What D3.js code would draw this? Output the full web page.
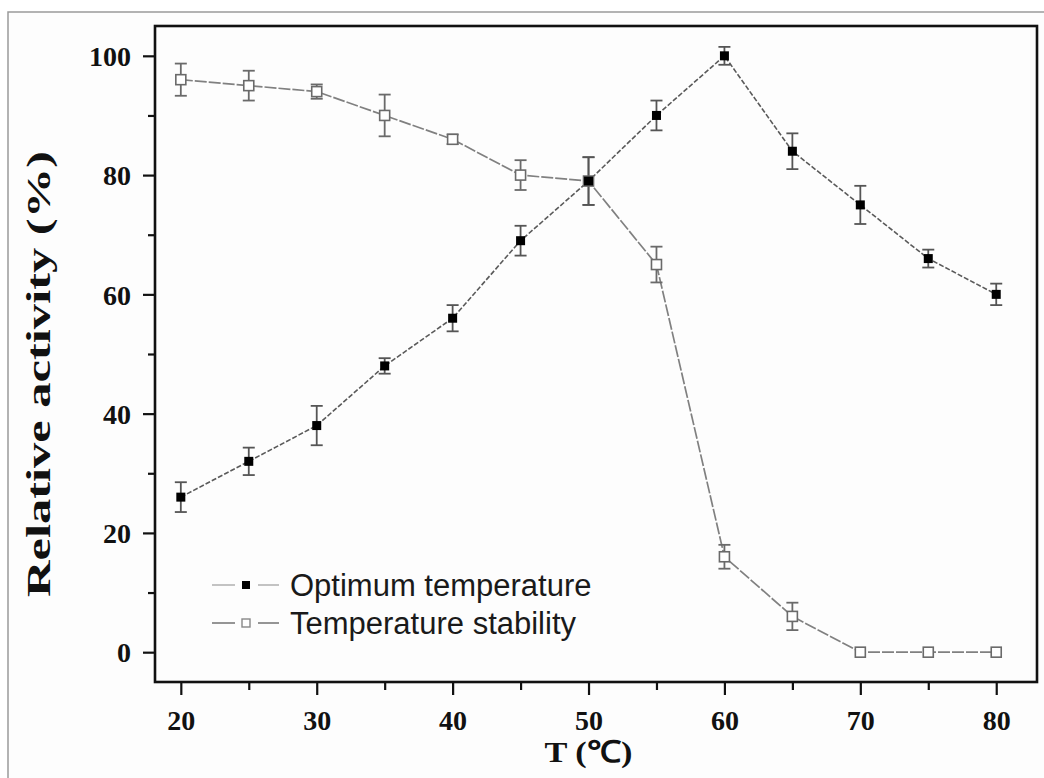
<!DOCTYPE html>
<html><head><meta charset="utf-8">
<script src="https://cdn.jsdelivr.net/npm/d3@7"></script>
<style>html,body{margin:0;padding:0;background:#fff;}svg{display:block;}</style>
</head><body>
<svg id="chart" width="1044" height="778"></svg>
<script>
const temps = [20, 25, 30, 35, 40, 45, 50, 55, 60, 65, 70, 75, 80];
const optimumValues = [26, 32, 38, 48, 56, 69, 79, 90, 100, 84, 75, 66, 60];
const optimumErrors = [2.5, 2.3, 3.3, 1.3, 2.2, 2.5, 4, 2.5, 1.5, 3, 3.2, 1.5, 1.8];
const stabilityValues = [96, 95, 94, 90, 86, 80, 79, 65, 16, 6, 0, 0, 0];
const stabilityErrors = [2.7, 2.5, 1.2, 3.5, 0.8, 2.5, 4, 3, 2, 2.3, 0, 0, 0];
const xTicks = [20, 30, 40, 50, 60, 70, 80];
const xMinorTicks = [25, 35, 45, 55, 65, 75];
const yTicks = [0, 20, 40, 60, 80, 100];
const yMinorTicks = [10, 30, 50, 70, 90];
const seriesNames = ["Optimum temperature", "Temperature stability"];
const xTitle = "T (\u2103)";
const yTitle = "Relative activity (%)";

const svg = d3.select("#chart");
const L = 155, R = 1037, T = 26, B = 682;
const x = d3.scaleLinear().domain([18.1, 83]).range([L, R]);
const y = d3.scaleLinear().domain([-5, 105]).range([B, T]);

// outer frame
svg.append("rect").attr("x", 8).attr("y", 12).attr("width", 1050).attr("height", 800)
  .attr("fill", "#fdfdfd").attr("stroke", "#9a9a9a").attr("stroke-width", 1.5);

const serif = "'Liberation Serif','Times New Roman',serif";
const sans = "'Liberation Sans',Arial,sans-serif";

// Axes
const xAxis = svg.append("g").attr("transform", `translate(0,${B})`)
  .call(d3.axisBottom(x).tickValues(xTicks).tickSize(13).tickPadding(15).tickFormat(d3.format("d")));
const xMinor = svg.append("g").attr("transform", `translate(0,${B})`)
  .call(d3.axisBottom(x).tickValues(xMinorTicks).tickSize(8).tickFormat(""));
const yAxis = svg.append("g").attr("transform", `translate(${L},0)`)
  .call(d3.axisLeft(y).tickValues(yTicks).tickSize(12).tickPadding(12).tickFormat(d3.format("d")));
const yMinor = svg.append("g").attr("transform", `translate(${L},0)`)
  .call(d3.axisLeft(y).tickValues(yMinorTicks).tickSize(7).tickFormat(""));
[xAxis, xMinor, yAxis, yMinor].forEach(g => {
  g.select(".domain").remove();
  g.selectAll(".tick line").attr("stroke", "#111").attr("stroke-width", 2.2);
  g.selectAll(".tick text").attr("fill", "#111").attr("font-family", serif)
    .attr("font-weight", "bold").attr("font-size", 28);
});
yAxis.selectAll(".tick text").attr("dy", "0.35em");

// plot frame
svg.append("rect").attr("x", L).attr("y", T).attr("width", R - L).attr("height", B - T)
  .attr("fill", "none").attr("stroke", "#111").attr("stroke-width", 2.6);

// titles
svg.append("text").attr("x", x(50)).attr("y", 762).attr("text-anchor", "middle")
  .attr("font-family", serif).attr("font-weight", "bold").attr("font-size", 30).attr("fill", "#111")
  .attr("textLength", 88).attr("lengthAdjust", "spacingAndGlyphs")
  .text(xTitle);
svg.append("text").attr("transform", `translate(50,${374}) rotate(-90)`).attr("text-anchor", "middle")
  .attr("font-family", serif).attr("font-weight", "bold").attr("font-size", 34).attr("fill", "#111")
  .attr("textLength", 446).attr("lengthAdjust", "spacingAndGlyphs")
  .text(yTitle);

// data
const opt = temps.map((t, i) => ({t, v: optimumValues[i], e: optimumErrors[i]}));
const stab = temps.map((t, i) => ({t, v: stabilityValues[i], e: stabilityErrors[i]}));
const line = d3.line().x(d => x(d.t)).y(d => y(d.v));

svg.append("path").datum(stab).attr("d", line).attr("fill", "none")
  .attr("stroke", "#808080").attr("stroke-width", 1.7).attr("stroke-dasharray", "12,2");
svg.append("path").datum(opt).attr("d", line).attr("fill", "none")
  .attr("stroke", "#5a5a5a").attr("stroke-width", 1.6).attr("stroke-dasharray", "5,2");

function errorBars(data, color) {
  const g = svg.append("g").attr("stroke", color).attr("stroke-width", 1.8);
  data.filter(d => d.e > 0).forEach(d => {
    const cx = x(d.t), y1 = y(d.v + d.e), y2 = y(d.v - d.e);
    g.append("line").attr("x1", cx).attr("x2", cx).attr("y1", y1).attr("y2", y2);
    g.append("line").attr("x1", cx - 6).attr("x2", cx + 6).attr("y1", y1).attr("y2", y1);
    g.append("line").attr("x1", cx - 6).attr("x2", cx + 6).attr("y1", y2).attr("y2", y2);
  });
}
errorBars(stab, "#6a6a6a");
errorBars(opt, "#555");

svg.append("g").selectAll("rect").data(stab).join("rect")
  .attr("x", d => x(d.t) - 5).attr("y", d => y(d.v) - 5).attr("width", 10).attr("height", 10)
  .attr("fill", "#fff").attr("stroke", "#6a6a6a").attr("stroke-width", 1.6);
svg.append("g").selectAll("rect").data(opt).join("rect")
  .attr("x", d => x(d.t) - 4.5).attr("y", d => y(d.v) - 4.5).attr("width", 9).attr("height", 9)
  .attr("fill", "#000");

// legend
const legend = [
  {name: seriesNames[0], lineColor: "#bdbdbd", filled: true, cy: 585},
  {name: seriesNames[1], lineColor: "#8a8a8a", filled: false, cy: 623}
];
legend.forEach(l => {
  const g = svg.append("g");
  g.append("line").attr("x1", 212).attr("x2", 235).attr("y1", l.cy).attr("y2", l.cy)
    .attr("stroke", l.lineColor).attr("stroke-width", 1.8);
  g.append("line").attr("x1", 258).attr("x2", 279).attr("y1", l.cy).attr("y2", l.cy)
    .attr("stroke", l.lineColor).attr("stroke-width", 1.8);
  if (l.filled) {
    g.append("rect").attr("x", 242).attr("y", l.cy - 4).attr("width", 8).attr("height", 8).attr("fill", "#000");
  } else {
    g.append("rect").attr("x", 242).attr("y", l.cy - 4).attr("width", 8).attr("height", 8)
      .attr("fill", "#fff").attr("stroke", "#888").attr("stroke-width", 1.4);
  }
  g.append("text").attr("x", 290).attr("y", l.cy).attr("dy", "0.35em")
    .attr("font-family", sans).attr("font-size", 31).attr("fill", "#1a1a1a").text(l.name);
});
</script>
</body></html>
